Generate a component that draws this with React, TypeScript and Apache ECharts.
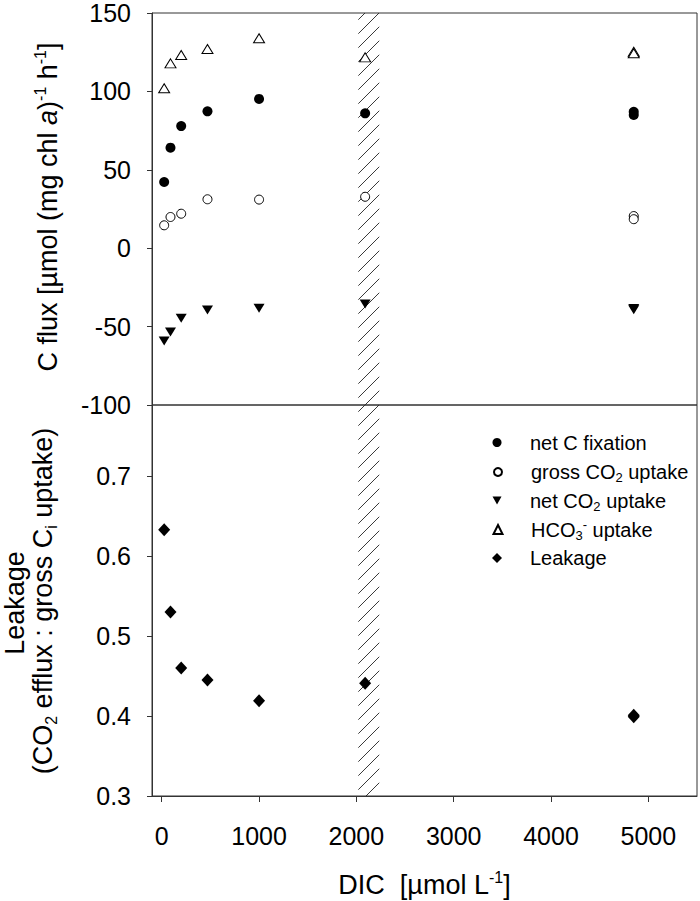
import React, { useEffect, useRef } from 'react';
import * as echarts from 'echarts';

// ---- data ----
const DIC = [25, 90, 200, 470, 1000, 2090, 4850, 4850];
const NET_C_FIXATION = [42.2, 64.1, 77.9, 87.3, 95.2, 86.0, 87.0, 85.0];
const GROSS_CO2_UPTAKE = [14.6, 19.9, 22.0, 31.2, 31.0, 32.8, 20.5, 18.5];
const NET_CO2_UPTAKE = [-59.2, -53.4, -44.7, -39.4, -38.3, -35.6, -38.5, -39.2];
const HCO3_UPTAKE = [102.0, 117.9, 123.2, 127.0, 133.9, 121.7, 125.3, 124.3];
const LEAKAGE = [0.633, 0.53, 0.46, 0.445, 0.419, 0.441, 0.401, 0.399];
const BAND = [2020, 2235];
const X_TICKS = [0, 1000, 2000, 3000, 4000, 5000];
const LEAK_TICKS = [0.3, 0.4, 0.5, 0.6, 0.7];
const SERIES_NAMES = ['net C fixation', 'gross CO2 uptake', 'net CO2 uptake', 'HCO3- uptake', 'Leakage'];
const LEGEND_LABELS: Record<string, string> = {
  'net C fixation': 'net C fixation',
  'gross CO2 uptake': 'gross CO{sub|2} uptake',
  'net CO2 uptake': 'net CO{sub|2} uptake',
  'HCO3- uptake': 'HCO{sub|3}{sup|-} uptake',
  'Leakage': 'Leakage',
};

// ---- layout / style constants ----
const FONT = "'Liberation Sans', Arial, Helvetica, sans-serif";
const AXIS_COLOR = '#333';
const LEGEND_ROWS = [435, 464, 493, 522, 551];
const LEGEND_ICON = [9, 8, 9, 9, 10];
const LEGEND_ICON_SHAPE: (string | undefined)[] = [undefined, undefined, 'path://M0,0L10,0L5,9Z', undefined, undefined];
const LEGEND_ICON_X = 497;
const LEGEND_TEXT_X = 530;
const HATCH_STEP = 14;
const TITLE_SIZE = 27;

function hatchRenderItem(params: any, api: any) {
  const cs = params.coordSys;
  const xa = api.coord([api.value(0), api.value(2)])[0];
  const xb = api.coord([api.value(1), api.value(2)])[0];
  const y0 = cs.y;
  const y1 = cs.y + cs.height;
  const children: any[] = [];
  for (let c = Math.ceil((xa + y0) / HATCH_STEP) * HATCH_STEP; c <= xb + y1; c += HATCH_STEP) {
    const sx = Math.max(xa, c - y1);
    const ex = Math.min(xb, c - y0);
    if (ex - sx > 0.5) {
      children.push({
        type: 'line',
        shape: { x1: sx, y1: c - sx, x2: ex, y2: c - ex },
        style: { stroke: '#222', lineWidth: 0.9 },
      });
    }
  }
  return { type: 'group', children };
}

export default function App() {
  const ref = useRef<HTMLDivElement>(null);
  useEffect(() => {
    if (!ref.current) return;
    const chart = echarts.init(ref.current, undefined, { renderer: 'svg' });
    const lineStyle = { color: AXIS_COLOR, width: 1 };
    const tickLabel = { fontSize: 25, color: '#000', fontFamily: FONT };
    const supSize = Math.round(TITLE_SIZE * 0.6);
    const titleRich = {
      sup: { fontSize: supSize, lineHeight: supSize, verticalAlign: 'top', fill: '#000', fontFamily: FONT },
      sub: { fontSize: supSize, lineHeight: supSize, verticalAlign: 'bottom', fill: '#000', fontFamily: FONT },
      it: { fontSize: TITLE_SIZE, lineHeight: TITLE_SIZE + 5, fontStyle: 'italic', fill: '#000', fontFamily: FONT },
    };
    const titleStyle = (text: string, lineHeight = TITLE_SIZE + 5) => ({
      text,
      fontSize: TITLE_SIZE,
      lineHeight,
      fontFamily: FONT,
      fill: '#000',
      align: 'center',
      verticalAlign: 'middle',
      rich: titleRich,
    });

    const xy = (ys: number[]) => DIC.map((x, i) => [x, ys[i]]);
    const scatterBase = { xAxisIndex: 0, yAxisIndex: 0, z: 3, emphasis: { disabled: true } };

    const option: any = {
      animation: false,
      backgroundColor: '#fff',
      grid: [
        { left: 152, top: 13, width: 545, height: 392, show: true, borderColor: AXIS_COLOR, borderWidth: 1 },
        { left: 152, top: 405, width: 545, height: 391, show: true, borderColor: AXIS_COLOR, borderWidth: 1 },
      ],
      xAxis: [
        {
          type: 'value', gridIndex: 0, min: -100, max: 5500,
          axisLine: { show: false }, axisTick: { show: false }, axisLabel: { show: false }, splitLine: { show: false },
        },
        {
          type: 'value', gridIndex: 1, min: -100, max: 5500,
          axisLine: { show: true, onZero: false, lineStyle },
          axisTick: { show: true, length: 6, customValues: X_TICKS, lineStyle },
          axisLabel: { ...tickLabel, customValues: X_TICKS, margin: 27, formatter: (v: number) => String(v) },
          splitLine: { show: false },
        },
      ],
      yAxis: [
        {
          type: 'value', gridIndex: 0, min: -100, max: 150, interval: 50,
          axisLine: { show: true, onZero: false, lineStyle },
          axisTick: { show: true, length: 5, lineStyle },
          axisLabel: { ...tickLabel, margin: 21, formatter: (v: number) => String(v) },
          splitLine: { show: false },
        },
        {
          type: 'value', gridIndex: 1, min: 0.3, max: 0.789,
          axisLine: { show: true, onZero: false, lineStyle },
          axisTick: { show: true, length: 5, customValues: LEAK_TICKS, lineStyle },
          axisLabel: { ...tickLabel, margin: 21, customValues: LEAK_TICKS, formatter: (v: number) => v.toFixed(1) },
          splitLine: { show: false },
        },
      ],
      legend: SERIES_NAMES.map((name, i) => ({
        data: [LEGEND_ICON_SHAPE[i] ? { name, icon: LEGEND_ICON_SHAPE[i] } : name],
        orient: 'vertical',
        left: LEGEND_ICON_X - LEGEND_ICON[i] / 2,
        top: LEGEND_ROWS[i] - LEGEND_ICON[i] / 2,
        padding: 0,
        itemWidth: LEGEND_ICON[i],
        itemHeight: LEGEND_ICON[i],
        selectedMode: false,
        formatter: (n: string) => LEGEND_LABELS[n],
        textStyle: {
          fontSize: 20,
          lineHeight: 24,
          color: '#000',
          fontFamily: FONT,
          padding: [0, 0, 0, LEGEND_TEXT_X - LEGEND_ICON_X - LEGEND_ICON[i] / 2 - 5],
          rich: {
            sub: { fontSize: 13, lineHeight: 13, verticalAlign: 'bottom', color: '#000', fontFamily: FONT },
            sup: { fontSize: 13, lineHeight: 13, verticalAlign: 'top', color: '#000', fontFamily: FONT },
          },
        },
      })),
      series: [
        {
          type: 'custom', name: 'band-top', xAxisIndex: 0, yAxisIndex: 0,
          data: [[BAND[0], BAND[1], 0]], encode: { x: [0, 1], y: 2 },
          renderItem: hatchRenderItem, silent: true, z: 1, clip: false,
        },
        {
          type: 'custom', name: 'band-bottom', xAxisIndex: 1, yAxisIndex: 1,
          data: [[BAND[0], BAND[1], 0.5]], encode: { x: [0, 1], y: 2 },
          renderItem: hatchRenderItem, silent: true, z: 1, clip: false,
        },
        {
          ...scatterBase, type: 'scatter', name: SERIES_NAMES[0],
          data: xy(NET_C_FIXATION), symbol: 'circle', symbolSize: 10,
          itemStyle: { color: '#000', opacity: 1 },
        },
        {
          ...scatterBase, type: 'scatter', name: SERIES_NAMES[1],
          data: xy(GROSS_CO2_UPTAKE), symbol: 'circle', symbolSize: 9,
          itemStyle: { color: '#fff', borderColor: '#000', borderWidth: 1, opacity: 1 },
        },
        {
          ...scatterBase, type: 'scatter', name: SERIES_NAMES[2],
          data: xy(NET_CO2_UPTAKE), symbol: 'triangle', symbolRotate: 180, symbolSize: [11, 9],
          itemStyle: { color: '#000', opacity: 1 },
        },
        {
          ...scatterBase, type: 'scatter', name: SERIES_NAMES[3],
          data: xy(HCO3_UPTAKE), symbol: 'triangle', symbolSize: [11, 9],
          itemStyle: { color: '#fff', borderColor: '#000', borderWidth: 1, opacity: 1 },
        },
        {
          ...scatterBase, type: 'scatter', name: SERIES_NAMES[4], xAxisIndex: 1, yAxisIndex: 1,
          data: xy(LEAKAGE), symbol: 'diamond', symbolSize: [12, 13],
          itemStyle: { color: '#000', opacity: 1 },
        },
      ],
      graphic: [
        { type: 'text', x: 48, y: 207, rotation: Math.PI / 2, style: titleStyle('C flux [µmol (mg chl {it|a}){sup|-1} h{sup|-1}]') },
        { type: 'text', x: 15, y: 603, rotation: Math.PI / 2, style: titleStyle('Leakage', TITLE_SIZE) },
        { type: 'text', x: 43, y: 601, rotation: Math.PI / 2, style: titleStyle('(CO{sub|2} efflux : gross C{sub|i} uptake)') },
        { type: 'text', x: 424.5, y: 885, style: titleStyle('DIC  [µmol L{sup|-1}]') },
      ],
    };
    chart.setOption(option);
    return () => chart.dispose();
  }, []);
  return <div ref={ref} style={{ position: 'absolute', left: 0, top: 0, width: 700, height: 901 }} />;
}
